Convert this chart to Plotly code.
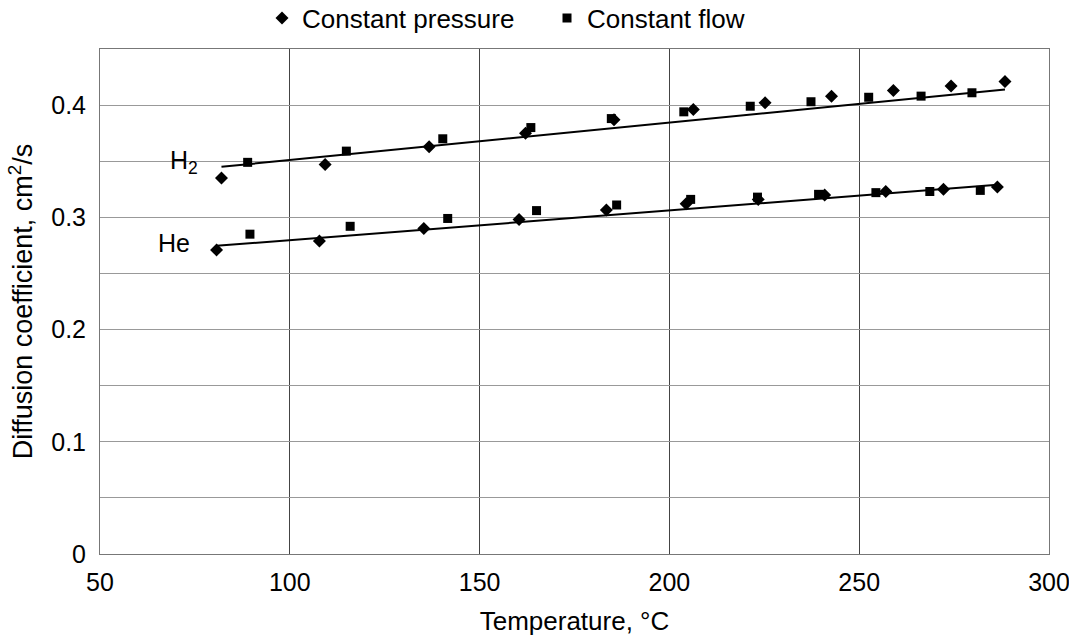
import plotly.graph_objects as go

# H2, constant pressure (diamonds)
h2_cp_T = [82.0, 109.3, 136.7, 162.1, 185.4, 206.3, 225.2, 242.7, 259.0, 274.2, 288.4]
h2_cp_D = [0.335, 0.347, 0.363, 0.375, 0.387, 0.396, 0.402, 0.408, 0.413, 0.417, 0.421]
# H2, constant flow (squares)
h2_cf_T = [88.9, 114.9, 140.3, 163.5, 184.7, 203.8, 221.3, 237.3, 252.5, 266.3, 279.7]
h2_cf_D = [0.349, 0.359, 0.370, 0.380, 0.388, 0.394, 0.399, 0.403, 0.407, 0.408, 0.411]
# He, constant pressure (diamonds)
he_cp_T = [80.7, 107.8, 135.3, 160.4, 183.4, 204.4, 223.4, 240.9, 257.0, 272.2, 286.4]
he_cp_D = [0.271, 0.279, 0.290, 0.298, 0.3065, 0.312, 0.316, 0.320, 0.323, 0.325, 0.327]
# He, constant flow (squares)
he_cf_T = [89.5, 115.9, 141.6, 165.0, 186.1, 205.6, 223.2, 239.3, 254.4, 268.6, 281.9]
he_cf_D = [0.285, 0.292, 0.299, 0.306, 0.311, 0.316, 0.318, 0.3205, 0.322, 0.323, 0.324]
# Fitted lines
h2_fit_T = [82.0, 288.4]
h2_fit_D = [0.345, 0.414]
he_fit_T = [80.7, 286.4]
he_fit_D = [0.2746, 0.329]

x_ticks = [50, 100, 150, 200, 250, 300]
y_ticks = [0, 0.05, 0.1, 0.15, 0.2, 0.25, 0.3, 0.35, 0.4, 0.45]
y_labels = ["0", "", "0.1", "", "0.2", "", "0.3", "", "0.4", ""]

FONT = "Liberation Sans, Arial, Helvetica, sans-serif"

fig = go.Figure()
for T, D in [(h2_fit_T, h2_fit_D), (he_fit_T, he_fit_D)]:
    fig.add_trace(go.Scatter(x=T, y=D, mode="lines", line=dict(color="black", width=2),
                             showlegend=False, hoverinfo="skip"))

fig.add_trace(go.Scatter(x=h2_cp_T + he_cp_T, y=h2_cp_D + he_cp_D, mode="markers",
                         name="Constant pressure",
                         marker=dict(symbol="diamond", size=10, color="black")))
fig.add_trace(go.Scatter(x=h2_cf_T + he_cf_T, y=h2_cf_D + he_cf_D, mode="markers",
                         name="Constant flow",
                         marker=dict(symbol="square", size=9, color="black")))

fig.add_annotation(x=72.0, y=0.349, text="H<sub>2</sub>", showarrow=False,
                   font=dict(size=25, color="black", family=FONT))
fig.add_annotation(x=69.5, y=0.277, text="He", showarrow=False,
                   font=dict(size=25, color="black", family=FONT))

fig.update_layout(
    width=1069, height=638,
    margin=dict(l=100, r=20, t=49, b=84, autoexpand=False),
    paper_bgcolor="white", plot_bgcolor="white",
    font=dict(family=FONT, size=25, color="black"),
    legend=dict(orientation="h", x=(262 - 100) / 949, xanchor="left",
                y=1 + (49 - 18) / 505, yanchor="middle",
                font=dict(size=26), itemsizing="trace", itemwidth=30, entrywidth=240,
                bgcolor="rgba(0,0,0,0)", borderwidth=0),
    showlegend=True,
)
fig.update_xaxes(range=[50, 300], tickvals=x_ticks, showgrid=True, gridcolor="#444",
                 gridwidth=1, showline=True, linecolor="#777", linewidth=1, mirror=True,
                 zeroline=False, ticks="", ticklabelstandoff=6, ticklabeloverflow="allow",
                 automargin=False,
                 title=dict(text="Temperature, °C", standoff=16, font=dict(size=26)))
fig.update_yaxes(range=[0, 0.45], tickvals=y_ticks, ticktext=y_labels, showgrid=True,
                 gridcolor="#999", gridwidth=1, showline=True, linecolor="#777",
                 linewidth=1, mirror=True, zeroline=False, ticks="", ticklabelstandoff=8,
                 automargin=False,
                 title=dict(text="Diffusion coefficient, cm<sup>2</sup>/s", standoff=10,
                            font=dict(size=27)))

fig.write_html("out.html")
